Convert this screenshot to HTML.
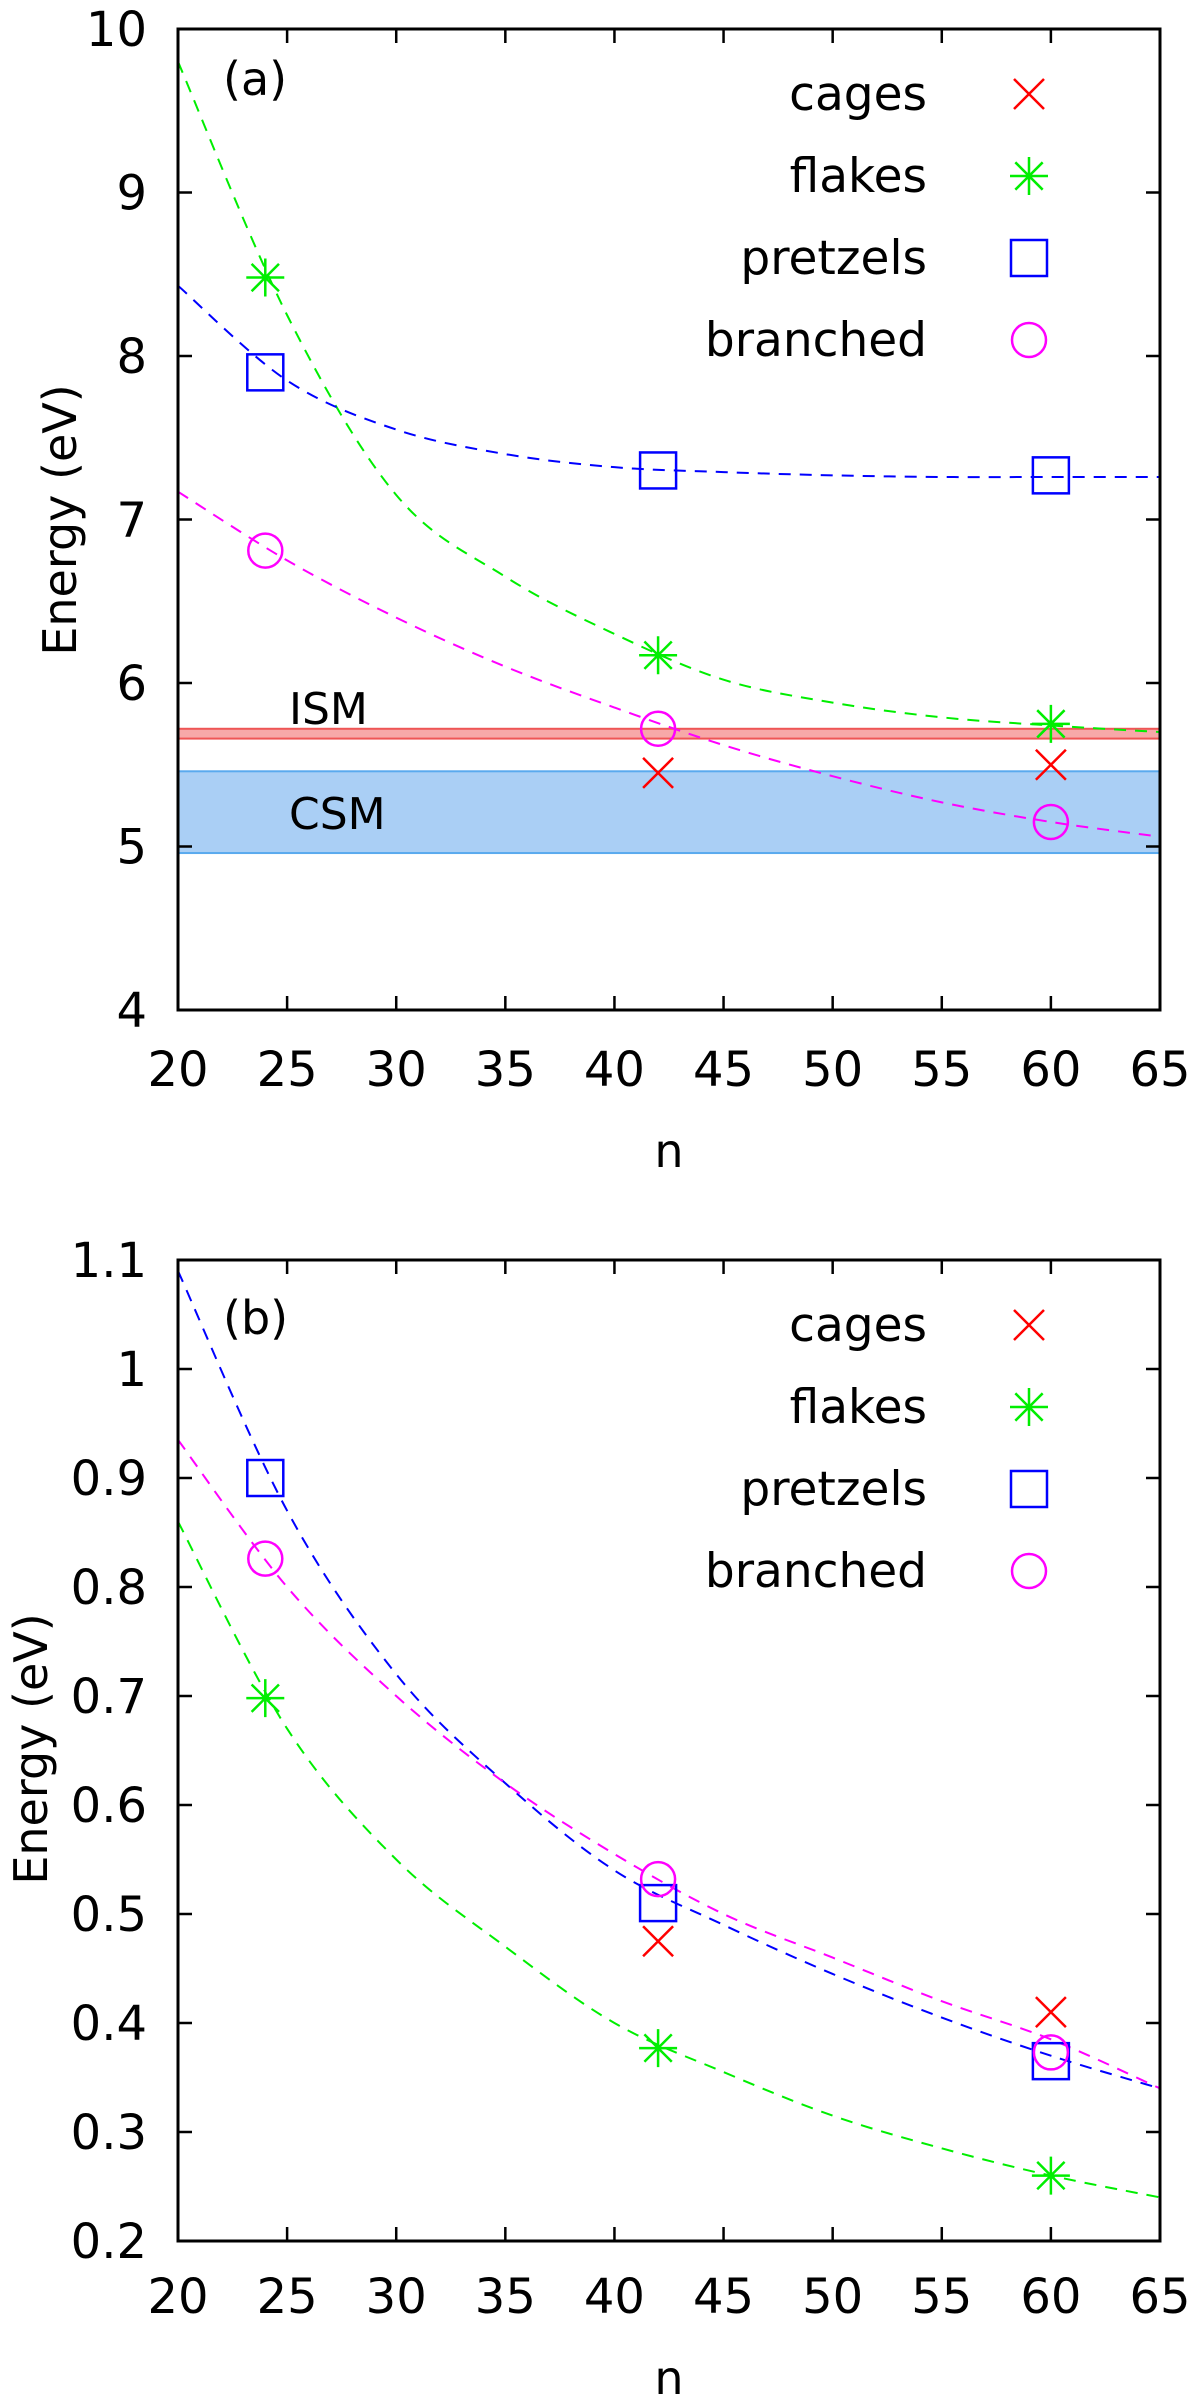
<!DOCTYPE html>
<html><head><meta charset="utf-8"><style>
html,body{margin:0;padding:0;background:#fff}
svg{display:block}
text{font-family:"DejaVu Sans","Liberation Sans",sans-serif;fill:#000}
</style></head><body>
<svg id="chart" width="1200" height="2402" viewBox="0 0 1200 2402" xmlns="http://www.w3.org/2000/svg"></svg>
<script>
// ---- data ----
const xTicks = [20,25,30,35,40,45,50,55,60,65];
const yTicksA = [4,5,6,7,8,9,10];
const yTicksB = [0.2,0.3,0.4,0.5,0.6,0.7,0.8,0.9,1,1.1];
const seriesNames = ["cages","flakes","pretzels","branched"];
const pointN = [24,42,60];
const cagesA = [null,5.45,5.5];
const flakesA = [8.48,6.17,5.75];
const pretzelsA = [7.9,7.3,7.27];
const branchedA = [6.81,5.72,5.15];
const cagesB = [null,0.475,0.41];
const flakesB = [0.698,0.377,0.26];
const pretzelsB = [0.9,0.51,0.365];
const branchedB = [0.826,0.532,0.373];
const curveN = [20,25,30,35,40,45,50,55,60,65];
const flakesFitA = [9.8,8.25,7.15,6.65,6.3,6.02,5.88,5.79,5.74,5.70];
const pretzelsFitA = [8.43,7.85,7.55,7.4,7.32,7.29,7.27,7.26,7.26,7.26];
const branchedFitA = [7.17,6.75,6.4,6.1,5.85,5.62,5.43,5.27,5.15,5.06];
const pretzelsFitB = [1.09,0.87,0.72,0.62,0.54,0.49,0.445,0.405,0.37,0.34];
const branchedFitB = [0.935,0.8,0.7,0.62,0.555,0.5,0.46,0.42,0.385,0.34];
const flakesFitB = [0.86,0.67,0.55,0.47,0.4,0.355,0.315,0.285,0.26,0.24];
const ismBand = [5.66,5.72];
const csmBand = [4.96,5.46];

const NS = "http://www.w3.org/2000/svg";
const svg = document.getElementById('chart');
function el(tag, attrs, parent){const e=document.createElementNS(NS,tag);for(const k in attrs)e.setAttribute(k,attrs[k]);(parent||svg).appendChild(e);return e;}
const colors = {cages:"#ff0000",flakes:"#00ee00",pretzels:"#0000ff",branched:"#ff00ff"};
const L=178,R=1160;
function xs(n){return L+(n-20)/(65-20)*(R-L);}

function marker(g,type,x,y){
  const c=colors[type];
  if(type==="cages"){const s=15;el('path',{d:`M${x-s} ${y-s}L${x+s} ${y+s}M${x-s} ${y+s}L${x+s} ${y-s}`,stroke:c,'stroke-width':2.5,fill:'none'},g);}
  else if(type==="flakes"){const s=19;el('path',{d:`M${x-s} ${y}L${x+s} ${y}M${x} ${y-s}L${x} ${y+s}M${x-s*0.72} ${y-s*0.72}L${x+s*0.72} ${y+s*0.72}M${x-s*0.72} ${y+s*0.72}L${x+s*0.72} ${y-s*0.72}`,stroke:c,'stroke-width':2.5,fill:'none'},g);}
  else if(type==="pretzels"){const s=18;el('rect',{x:x-s,y:y-s,width:2*s,height:2*s,stroke:c,'stroke-width':2.5,fill:'none'},g);}
  else {el('circle',{cx:x,cy:y,r:17,stroke:c,'stroke-width':2.5,fill:'none'},g);}
}
function smoothPath(pts){
  let d=`M${pts[0][0]} ${pts[0][1]}`;
  for(let i=0;i<pts.length-1;i++){
    const p0=pts[Math.max(0,i-1)],p1=pts[i],p2=pts[i+1],p3=pts[Math.min(pts.length-1,i+2)];
    const c1=[p1[0]+(p2[0]-p0[0])/6,p1[1]+(p2[1]-p0[1])/6];
    const c2=[p2[0]-(p3[0]-p1[0])/6,p2[1]-(p3[1]-p1[1])/6];
    d+=`C${c1[0]} ${c1[1]} ${c2[0]} ${c2[1]} ${p2[0]} ${p2[1]}`;
  }
  return d;
}

function panel(cfg){
  const g=el('g',{});
  
  
  const T=cfg.top,B=cfg.bottom;
  const ys=v=>B-(v-cfg.ymin)/(cfg.ymax-cfg.ymin)*(B-T);
  const clipId='clip'+cfg.id;
  const cp=el('clipPath',{id:clipId},g);el('rect',{x:L,y:T,width:R-L,height:B-T},cp);
  if(cfg.bands){
    const ism=el('rect',{x:L,y:ys(ismBand[1]),width:R-L,height:ys(ismBand[0])-ys(ismBand[1]),fill:'#f7a8a8',stroke:'#ee5555','stroke-width':2},g);
    
    const csm=el('rect',{x:L,y:ys(csmBand[1]),width:R-L,height:ys(csmBand[0])-ys(csmBand[1]),fill:'#aacff5',stroke:'#5aaaee','stroke-width':2},g);
    
    const t1=el('text',{x:289,y:724,'font-size':44},g);t1.textContent='ISM';
    
    const t2=el('text',{x:289,y:829,'font-size':44},g);t2.textContent='CSM';
    
  }
  cfg.fits.forEach(f=>{
    const pts=curveN.map((n,i)=>[xs(n),ys(f.vals[i])]);
    const p=el('path',{d:smoothPath(pts),stroke:colors[f.type],'stroke-width':2,fill:'none','stroke-dasharray':'12 9','clip-path':`url(#${clipId})`},g);
    
  });
  cfg.series.forEach(s=>{
    s.vals.forEach((v,i)=>{
      if(v===null)return;
      const mg=el('g',{},g);
      
      
      marker(mg,s.type,xs(pointN[i]),ys(v));
    });
  });
  const fr=el('rect',{x:L,y:T,width:R-L,height:B-T,fill:'none',stroke:'#000','stroke-width':3},g);
  
  xTicks.forEach(n=>{
    const x=xs(n);
    el('path',{d:`M${x} ${B}V${B-14}M${x} ${T}V${T+14}`,stroke:'#000','stroke-width':2.5},g);
    const t=el('text',{x:x,y:cfg.xlabY,'font-size':48,'text-anchor':'middle'},g);t.textContent=n;
    
  });
  cfg.yTicks.forEach(v=>{
    const y=ys(v);
    el('path',{d:`M${L} ${y}H${L+14}M${R} ${y}H${R-14}`,stroke:'#000','stroke-width':2.5},g);
    const t=el('text',{x:147,y:y+17,'font-size':48,'text-anchor':'end'},g);t.textContent=v;
    
  });
  const xt=el('text',{x:669,y:cfg.xTitleY,'font-size':46,'text-anchor':'middle'},g);xt.textContent='n';
  
  const yt=el('text',{x:0,y:0,'font-size':46,'text-anchor':'middle',transform:`translate(${cfg.yTitleX},${cfg.yTitleY}) rotate(-90)`},g);yt.textContent='Energy (eV)';
  
  const pl=el('text',{x:223,y:cfg.labelY,'font-size':46},g);pl.textContent=cfg.label;
  
  seriesNames.forEach((nm,i)=>{
    const y=cfg.legY+i*82;
    const lg=el('g',{},g);
    
    
    const t=el('text',{x:927,y:y+16,'font-size':47,'text-anchor':'end'},lg);t.textContent=nm;
    marker(lg,nm,1029,y);
  });
}

panel({id:'a',name:'panel-a',top:29,bottom:1010,ymin:4,ymax:10,yTicks:yTicksA,bands:true,
  xlabY:1086,xTitleY:1167,yTitleX:76,yTitleY:520,labelY:95,label:'(a)',legY:94,
  fits:[{type:'flakes',vals:flakesFitA},{type:'pretzels',vals:pretzelsFitA},{type:'branched',vals:branchedFitA}],
  series:[{type:'cages',vals:cagesA},{type:'flakes',vals:flakesA},{type:'pretzels',vals:pretzelsA},{type:'branched',vals:branchedA}]});
panel({id:'b',name:'panel-b',top:1260,bottom:2241,ymin:0.2,ymax:1.1,yTicks:yTicksB,bands:false,
  xlabY:2313,xTitleY:2394,yTitleX:47,yTitleY:1749,labelY:1334,label:'(b)',legY:1325,
  fits:[{type:'pretzels',vals:pretzelsFitB},{type:'branched',vals:branchedFitB},{type:'flakes',vals:flakesFitB}],
  series:[{type:'cages',vals:cagesB},{type:'flakes',vals:flakesB},{type:'pretzels',vals:pretzelsB},{type:'branched',vals:branchedB}]});
</script>
</body></html>
